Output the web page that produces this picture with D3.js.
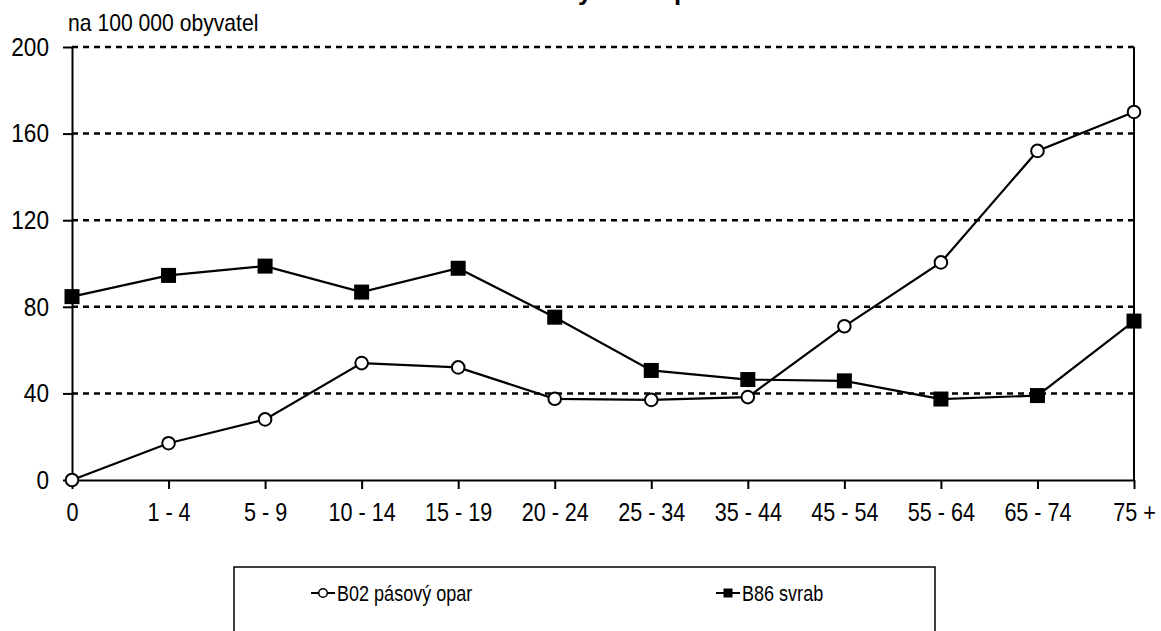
<!DOCTYPE html>
<html>
<head>
<meta charset="utf-8">
<script src="https://cdn.jsdelivr.net/npm/d3@7"></script>
<style>
  html, body { margin: 0; padding: 0; background: #fff; }
  svg { display: block; }
</style>
</head>
<body>
<svg id="chart" width="1161" height="631"></svg>
<script>
const categories = ["0", "1 - 4", "5 - 9", "10 - 14", "15 - 19", "20 - 24", "25 - 34", "35 - 44", "45 - 54", "55 - 64", "65 - 74", "75 +"];
const opar = [0, 17, 28, 54, 52, 37.5, 37, 38.3, 71, 100.5, 152, 170];
const svrab = [84.7, 94.5, 98.8, 86.8, 97.8, 75.2, 50.6, 46.4, 45.8, 37.4, 39, 73.4];
const yTicks = [0, 40, 80, 120, 160, 200];
const seriesNames = ["B02 pásový opar", "B86 svrab"];
const unitLabel = "na 100 000 obyvatel";
const titleText = "Nemocnost dle věkových skupin";

(function () {
const pLeft = 72, pRight = 1134, pTop = 47, pBottom = 480;
const textFont = "'Liberation Sans', Arial, sans-serif";

const svg = d3.select("#chart");

const x = d3.scalePoint().domain(categories).range([pLeft, pRight]).padding(0);
const y = d3.scaleLinear().domain([0, 200]).range([pBottom, pTop]);

// horizontally condense a text selection (the reference font is narrow)
function condense(sel, sx) {
  sel.each(function () {
    const t = d3.select(this);
    const ox = +(t.attr("x") || 0);
    t.attr("x", ox / sx).attr("transform", `scale(${sx},1)`);
  });
}

// title (mostly cut off above the picture, as in the reference)
const title = svg.append("text")
  .attr("x", 0).attr("y", 0)
  .attr("font-family", textFont)
  .attr("font-weight", "bold")
  .attr("font-size", 30)
  .text(titleText);
{
  const n = title.node();
  const iy = titleText.indexOf("ý");
  const ip = titleText.lastIndexOf("p");
  const py = n.getStartPositionOfChar(iy).x;
  const pp = n.getStartPositionOfChar(ip).x;
  const fs = 30 * 96 / (pp - py);
  title.attr("font-size", fs);
  const py2 = n.getStartPositionOfChar(iy).x;
  title.attr("x", 578 - py2);
}

// gridlines
svg.append("g").selectAll("line")
  .data(yTicks.filter(d => d > 0))
  .join("line")
  .attr("x1", pLeft).attr("x2", pRight)
  .attr("y1", d => y(d)).attr("y2", d => y(d))
  .attr("stroke", "#000").attr("stroke-width", 2.5)
  .attr("stroke-dasharray", "6,5");

// right border
svg.append("line")
  .attr("x1", pRight).attr("x2", pRight)
  .attr("y1", y(200)).attr("y2", y(0))
  .attr("stroke", "#000").attr("stroke-width", 2);

// y axis
const gy = svg.append("g")
  .attr("transform", `translate(${pLeft},0)`)
  .call(d3.axisLeft(y).tickValues(yTicks).tickSize(9).tickSizeOuter(0).tickPadding(14));
gy.select(".domain").attr("stroke", "#000").attr("stroke-width", 2);
gy.selectAll(".tick line").attr("stroke", "#000").attr("stroke-width", 2);
gy.selectAll(".tick text").attr("font-family", textFont).attr("font-size", 26).attr("fill", "#000");
condense(gy.selectAll(".tick text"), 0.87);

// x axis
const gx = svg.append("g")
  .attr("transform", `translate(0,${pBottom})`)
  .call(d3.axisBottom(x).tickSize(9).tickSizeOuter(0).tickPadding(14));
gx.select(".domain").attr("stroke", "#000").attr("stroke-width", 2);
gx.selectAll(".tick line").attr("stroke", "#000").attr("stroke-width", 2);
gx.selectAll(".tick text").attr("font-family", textFont).attr("font-size", 26).attr("fill", "#000");
condense(gx.selectAll(".tick text"), 0.83);

// unit label
const ul = svg.append("text")
  .attr("x", 68).attr("y", 31)
  .attr("font-family", textFont).attr("font-size", 23)
  .text(unitLabel);
condense(ul, 0.92);

const line = d3.line().x((d, i) => x(categories[i])).y(d => y(d));

// series lines
[opar, svrab].forEach(s => {
  svg.append("path")
    .attr("d", line(s))
    .attr("fill", "none")
    .attr("stroke", "#000")
    .attr("stroke-width", 2.2);
});

// markers svrab
svg.append("g").selectAll("rect")
  .data(svrab)
  .join("rect")
  .attr("x", (d, i) => x(categories[i]) - 7.5)
  .attr("y", d => y(d) - 7.5)
  .attr("width", 15).attr("height", 15)
  .attr("fill", "#000");

// markers opar
svg.append("g").selectAll("circle")
  .data(opar)
  .join("circle")
  .attr("cx", (d, i) => x(categories[i]))
  .attr("cy", d => y(d))
  .attr("r", 6.3)
  .attr("fill", "#fff")
  .attr("stroke", "#000")
  .attr("stroke-width", 2);

// legend
const lg = svg.append("g");
lg.append("rect")
  .attr("x", 234).attr("y", 567)
  .attr("width", 701).attr("height", 100)
  .attr("fill", "#fff").attr("stroke", "#000").attr("stroke-width", 1.5);

const legendItems = [
  { name: seriesNames[0], x: 311, type: "circle" },
  { name: seriesNames[1], x: 716, type: "square" }
];
const ly = 593;
legendItems.forEach(it => {
  lg.append("line")
    .attr("x1", it.x).attr("x2", it.x + 24)
    .attr("y1", ly).attr("y2", ly)
    .attr("stroke", "#000").attr("stroke-width", 2);
  if (it.type === "circle") {
    lg.append("circle").attr("cx", it.x + 12).attr("cy", ly).attr("r", 4.3)
      .attr("fill", "#fff").attr("stroke", "#000").attr("stroke-width", 1.6);
  } else {
    lg.append("rect").attr("x", it.x + 7.5).attr("y", ly - 4.5)
      .attr("width", 9).attr("height", 9).attr("fill", "#000");
  }
  const t = lg.append("text")
    .attr("x", it.x + 26).attr("y", ly + 8)
    .attr("font-family", textFont).attr("font-size", 22)
    .text(it.name);
  condense(t, 0.82);
});
})();
</script>
</body>
</html>
